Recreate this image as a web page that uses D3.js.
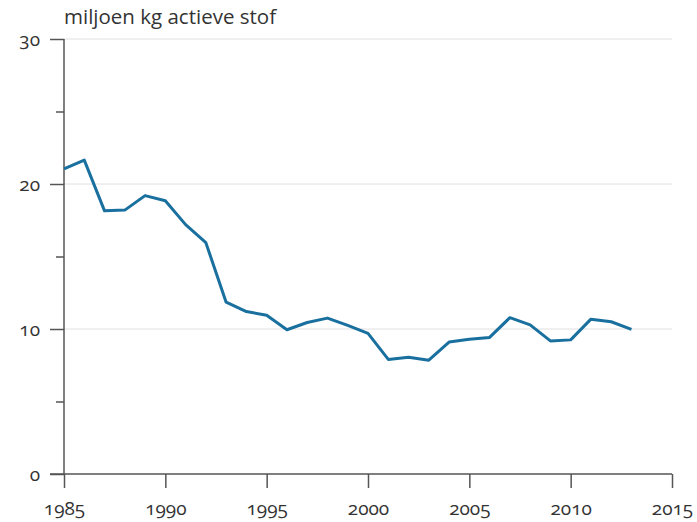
<!DOCTYPE html>
<html>
<head>
<meta charset="utf-8">
<script src="https://cdn.jsdelivr.net/npm/d3@7"></script>
<style>
  body { margin: 0; background: #fff; }
  svg text { font-family: "Open Sans", Lato, sans-serif; font-variant-numeric: oldstyle-nums; fill: #333; }
</style>
</head>
<body>
<div id="chart"></div>
<script>
// data
var years = [1985, 1986, 1987, 1988, 1989, 1990, 1991, 1992, 1993, 1994, 1995, 1996, 1997, 1998, 1999,
             2000, 2001, 2002, 2003, 2004, 2005, 2006, 2007, 2008, 2009, 2010, 2011, 2012, 2013];
var values = [21.05, 21.65, 18.15, 18.2, 19.2, 18.85, 17.2, 15.95, 11.85, 11.2, 10.95, 9.95, 10.45, 10.75, 10.25,
              9.7, 7.9, 8.05, 7.85, 9.1, 9.3, 9.42, 10.78, 10.28, 9.18, 9.25, 10.68, 10.5, 9.98];
var xTicks = [1985, 1990, 1995, 2000, 2005, 2010, 2015];
var yMajor = [0, 10, 20, 30];
var yMinor = [5, 15, 25];
var yTitle = "miljoen kg actieve stof";

var width = 697, height = 522;
var margin = {top: 39, right: 25, bottom: 48, left: 64};
var fontSize = 19;

var svg = d3.select("#chart").append("svg")
    .attr("width", width)
    .attr("height", height);

var x = d3.scaleLinear().domain([1985, 2015]).range([margin.left, width - margin.right]);
var y = d3.scaleLinear().domain([0, 30]).range([height - margin.bottom, margin.top]);

// gridlines
svg.append("g").selectAll("line")
    .data(yMajor.filter(function (d) { return d > 0; }))
    .enter().append("line")
    .attr("x1", x(1985)).attr("x2", x(2015))
    .attr("y1", function (d) { return y(d); })
    .attr("y2", function (d) { return y(d); })
    .attr("stroke", "#e0e0e0")
    .attr("stroke-width", 1);

// y axis
var yAxis = svg.append("g")
    .attr("transform", "translate(" + x(1985) + ",0)")
    .call(d3.axisLeft(y).tickValues(yMajor).tickSize(14).tickPadding(10).tickFormat(d3.format("d")));
svg.append("g")
    .attr("transform", "translate(" + x(1985) + ",0)")
    .call(d3.axisLeft(y).tickValues(yMinor).tickSize(8).tickFormat(""))
    .call(function (g) { g.select(".domain").remove(); });

// x axis
var xAxis = svg.append("g")
    .attr("transform", "translate(0," + y(0) + ")")
    .call(d3.axisBottom(x).tickValues(xTicks).tickSize(14).tickPadding(10).tickFormat(d3.format("d")));

svg.selectAll(".domain").attr("stroke", "#555").attr("stroke-width", 1.5);
svg.selectAll(".tick line").attr("stroke", "#555").attr("stroke-width", 1.5);
svg.selectAll(".tick text").attr("font-size", fontSize).style("fill", "#333");
xAxis.selectAll(".tick text").attr("dy", "0.9em");
yAxis.select(".domain").attr("d", "M0," + y(30) + "V" + y(0));
xAxis.select(".domain").attr("d", "M" + (x(1985) - 14) + ",0H" + x(2015));

// title
svg.append("text")
    .attr("x", x(1985))
    .attr("y", 24)
    .attr("font-size", 20.5)
    .text(yTitle);

// line
var line = d3.line()
    .x(function (d, i) { return x(years[i]); })
    .y(function (d) { return y(d); });

svg.append("path")
    .datum(values)
    .attr("fill", "none")
    .attr("stroke", "#19709f")
    .attr("stroke-width", 3)
    .attr("stroke-linejoin", "round")
    .attr("d", line);
</script>
</body>
</html>
